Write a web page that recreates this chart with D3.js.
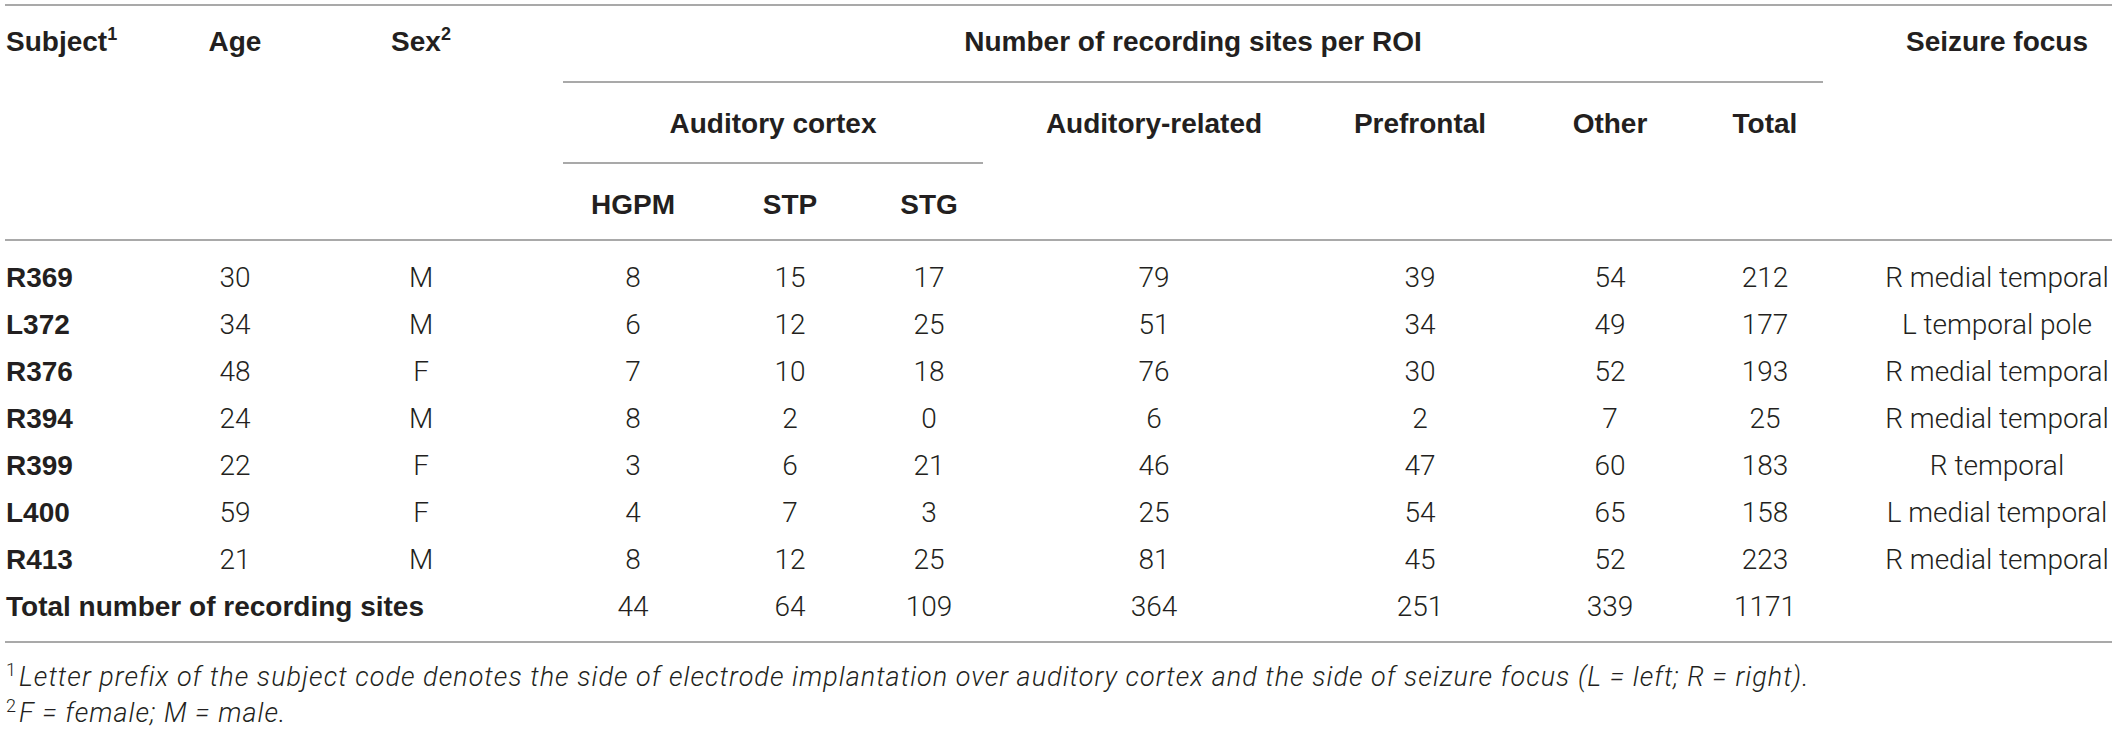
<!DOCTYPE html>
<html lang="en">
<head>
<meta charset="utf-8" />
<title>Recording sites per ROI</title>
<style>
  html,body{margin:0;background:#fff;}
  svg{display:block;}
  .bold{font-family:"Liberation Sans",Arial,sans-serif;font-weight:700;fill:#231f20;}
  .light{font-family:Roboto,"Liberation Sans",sans-serif;font-weight:300;fill:#231f20;}
  .rule{stroke:#8c8c8c;stroke-width:1.5;}
</style>
</head>
<body>
<svg id="chart" width="2117" height="732"></svg>
<script src="https://d3js.org/d3.v7.min.js"></script>
<script>
// ---- data ----
const subjects   = ['R369','L372','R376','R394','R399','L400','R413'];
const ages       = [30,34,48,24,22,59,21];
const sexes      = ['M','M','F','M','F','F','M'];
const hgpm       = [8,6,7,8,3,4,8];
const stp        = [15,12,10,2,6,7,12];
const stg        = [17,25,18,0,21,3,25];
const audRelated = [79,51,76,6,46,25,81];
const prefrontal = [39,34,30,2,47,54,45];
const other      = [54,49,52,7,60,65,52];
const totals     = [212,177,193,25,183,158,223];
const focus      = ['R medial temporal','L temporal pole','R medial temporal','R medial temporal','R temporal','L medial temporal','R medial temporal'];
const totalLabel = 'Total number of recording sites';
const totalRow   = [44,64,109,364,251,339,1171];

const roiKeys    = ['HGPM','STP','STG','Auditory-related','Prefrontal','Other','Total'];
const roiSeries  = [hgpm,stp,stg,audRelated,prefrontal,other,totals];
const footnotes  = [
  ['1','Letter prefix of the subject code denotes the side of electrode implantation over auditory cortex and the side of seizure focus (L = left; R = right).'],
  ['2','F = female; M = male.']
];

// ---- layout ----
const svg = d3.select('#chart');
const colKeys = ['Age','Sex',...roiKeys,'Seizure focus'];
const x = d3.scaleOrdinal().domain(colKeys)
  .range([235,421,633,790,929,1154,1420,1610,1765,1997]);
const y = d3.scalePoint().domain([...subjects,totalLabel]).range([277,606]);
const FS = 28, base = 10;

// rules
const rules = [
  {x1:5,x2:2112,y:5},
  {x1:563,x2:1823,y:82},
  {x1:563,x2:983,y:163},
  {x1:5,x2:2112,y:240},
  {x1:5,x2:2112,y:642}
];
svg.selectAll('line.rule').data(rules).join('line').attr('class','rule')
  .attr('x1',d=>d.x1).attr('x2',d=>d.x2).attr('y1',d=>d.y).attr('y2',d=>d.y);

// header helper
function head(txt,xp,yp,anchor,sup){
  const t = svg.append('text').attr('class','bold').attr('x',xp).attr('y',yp)
    .attr('text-anchor',anchor).style('font-size',FS+'px').text(txt);
  if(sup) t.append('tspan').attr('dy',-11).style('font-size','18px').text(sup);
  return t;
}
head('Subject',6,51,'start','1');
head('Age',x('Age'),51,'middle');
head('Sex',x('Sex'),51,'middle','2');
head('Number of recording sites per ROI',(563+1823)/2,51,'middle');
head('Seizure focus',x('Seizure focus'),51,'middle');
head('Auditory cortex',(563+983)/2,133,'middle');
['Auditory-related','Prefrontal','Other','Total'].forEach(k=>head(k,x(k),133,'middle'));
['HGPM','STP','STG'].forEach(k=>head(k,x(k),214,'middle'));

// body rows
const rows = subjects.map((s,i)=>({
  subject:s, cells:[
    ['Age',ages[i]],['Sex',sexes[i]],
    ...roiKeys.map((k,j)=>[k,roiSeries[j][i]]),
    ['Seizure focus',focus[i]]
  ]
}));
const rowG = svg.selectAll('g.row').data(rows).join('g').attr('class','row')
  .attr('transform',d=>`translate(0,${y(d.subject)+base})`);
rowG.append('text').attr('class','bold').attr('x',6).style('font-size',FS+'px').text(d=>d.subject);
rowG.selectAll('text.cell').data(d=>d.cells).join('text').attr('class','light cell')
  .attr('x',d=>x(d[0])).attr('text-anchor','middle').style('font-size',FS+'px').text(d=>d[1]);

// total row
const tg = svg.append('g').attr('transform',`translate(0,${y(totalLabel)+base})`);
tg.append('text').attr('class','bold').attr('x',6).style('font-size',FS+'px').text(totalLabel);
tg.selectAll('text.cell').data(roiKeys.map((k,j)=>[k,totalRow[j]])).join('text').attr('class','light cell')
  .attr('x',d=>x(d[0])).attr('text-anchor','middle').style('font-size',FS+'px').text(d=>d[1]);

// footnotes
const fy = d3.scalePoint().domain(footnotes.map(f=>f[0])).range([686,722]);
const fnText = footnotes.map(f=>{
  const t = svg.append('text').attr('class','light').attr('x',6).attr('y',fy(f[0]))
    .style('font-size','27px');
  t.append('tspan').attr('dy',-10).style('font-size','18px').text(f[0]);
  return t.append('tspan').attr('dy',10).attr('dx',3).style('font-style','italic').text(f[1]);
});
// the first note runs to x≈1813 in the source; spread letters to match
const natural = fnText[0].node().getComputedTextLength();
const ls = (1790 - natural) / footnotes[0][1].length;
fnText.forEach(t=>t.style('letter-spacing',ls+'px'));
</script>
</body>
</html>
